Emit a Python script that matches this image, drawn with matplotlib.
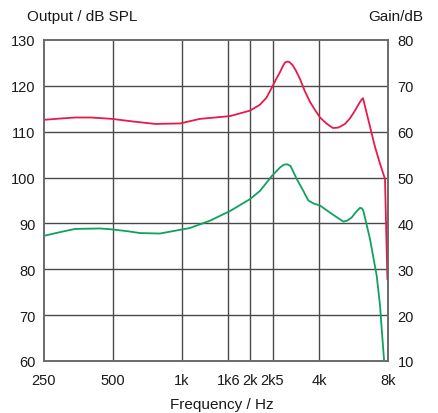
import matplotlib
matplotlib.use("Agg")
import matplotlib.pyplot as plt
from matplotlib.ticker import FixedLocator, NullLocator

plt.rcParams['font.family'] = ['Liberation Sans Narrow', 'Liberation Sans', 'DejaVu Sans']

# Output level (dB SPL, left axis)
out_freq = [250, 300, 342, 400, 496, 620, 765, 984, 1203, 1400, 1628, 1992,
            2203, 2350, 2487, 2600, 2695, 2780, 2834, 2900, 2960, 3050, 3150,
            3297, 3450, 3646, 3850, 4033, 4300, 4596, 4850, 5186, 5450, 5737,
            6000, 6150, 6220, 7017, 7383, 7762, 7840, 7950]
out_db = [112.6, 112.9, 113.1, 113.1, 112.8, 112.2, 111.7, 111.8, 112.8, 113.1,
          113.4, 114.6, 115.9, 117.4, 119.7, 121.6, 123.0, 124.4, 125.1, 125.3,
          125.2, 124.6, 123.5, 121.5, 119.0, 116.5, 114.6, 113.1, 111.8, 110.8,
          110.9, 111.7, 112.9, 114.6, 116.3, 117.1, 117.3, 106.7, 103.0, 99.7,
          90.3, 77.9]

# Gain (dB, right axis)
gain_freq = [250, 300, 342, 440, 496, 580, 658, 804, 984, 1088, 1331, 1628,
             1992, 2203, 2487, 2695, 2800, 2900, 3000, 3189, 3400, 3585, 3800,
             4033, 4537, 5100, 5300, 5548, 5800, 6033, 6150, 6237, 6673, 7138,
             7383, 7508, 7683]
gain_db = [37.3, 38.2, 38.8, 38.9, 38.7, 38.3, 37.9, 37.8, 38.6, 39.0, 40.6,
           42.7, 45.3, 47.1, 50.4, 52.2, 52.8, 52.9, 52.5, 49.7, 47.2, 45.0,
           44.3, 43.9, 42.1, 40.4, 40.6, 41.3, 42.5, 43.4, 43.3, 42.8, 36.6,
           28.6, 22.1, 17.0, 10.4]

freq_ticks = [250, 500, 1000, 1600, 2000, 2500, 4000, 8000]
freq_labels = ['250', '500', '1k', '1k6', '2k', '2k5', '4k', '8k']
out_ticks = [60, 70, 80, 90, 100, 110, 120, 130]
gain_ticks = [10, 20, 30, 40, 50, 60, 70, 80]

fig = plt.figure(figsize=(4.39, 4.14), dpi=100)
ax = fig.add_axes([44 / 439, 1 - 362 / 414, 344 / 439, 321 / 414])
ax2 = ax.twinx()

ax.set_xscale('log')
ax.set_xlim(250, 8000)
ax.set_ylim(60, 130)
ax2.set_ylim(10, 80)

ax.xaxis.set_major_locator(FixedLocator(freq_ticks))
ax.xaxis.set_minor_locator(NullLocator())
ax.set_xticklabels(freq_labels)
ax.set_yticks(out_ticks)
ax2.set_yticks(gain_ticks)

grid_col = '#4a4a4a'
for f in freq_ticks[1:-1]:
    ax.axvline(f, color=grid_col, lw=1.0, zorder=1)
for v in out_ticks[1:-1]:
    ax.axhline(v, color=grid_col, lw=1.0, zorder=1)

ax.plot(out_freq, out_db, color='#e8194c', lw=1.3, zorder=3,
        solid_joinstyle='round')
ax2.plot(gain_freq, gain_db, color='#0ea25e', lw=1.3, zorder=3,
         solid_joinstyle='round')

for a in (ax, ax2):
    for s in a.spines.values():
        s.set_color('#6a6a6a')
        s.set_linewidth(1.2)
    a.tick_params(length=0, labelsize=10.5, colors='#1a1a1a')
ax.tick_params(axis='x', pad=9)
ax.tick_params(axis='y', pad=6)
ax2.tick_params(axis='y', pad=7)

fig.text(27 / 439, 1 - 17 / 414, 'Output / dB SPL', fontsize=11, va='center',
         ha='left', color='#1a1a1a')
fig.text(423 / 439, 1 - 17 / 414, 'Gain/dB', fontsize=11, va='center',
         ha='right', color='#1a1a1a')
fig.text(222 / 439, 1 - 405 / 414, 'Frequency / Hz', fontsize=11, va='center',
         ha='center', color='#1a1a1a')

fig.savefig('out.png', dpi=100)
